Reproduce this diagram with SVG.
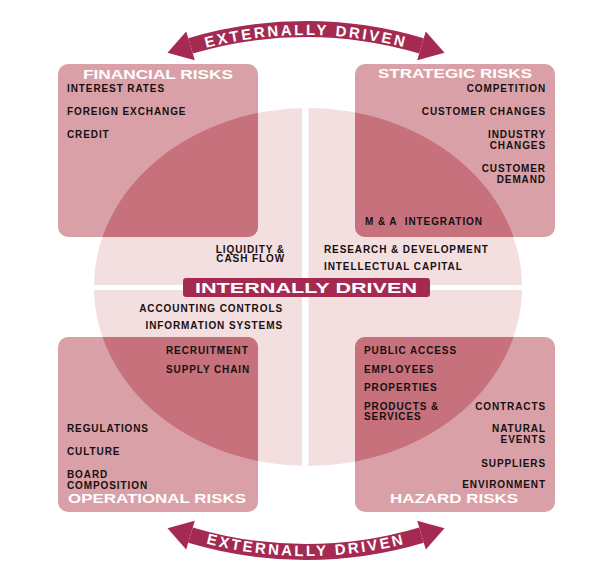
<svg xmlns="http://www.w3.org/2000/svg" width="615" height="562" viewBox="0 0 615 562">
  <style>
    text { font-family: "Liberation Sans", Arial, sans-serif; font-weight: bold; }
    .box { fill: #d9a1a7; }
    .title { fill: #ffffff; font-size: 13.5px; }
    .item { fill: #171012; font-size: 10px; letter-spacing: 0.9px; }
    .end { text-anchor: end; }
    .band { fill: none; stroke: #a42a51; stroke-width: 16; }
    .head { fill: #a42a51; }
    .arc-label { fill: #ffffff; font-size: 15px; letter-spacing: 2.5px; }
  </style>
  <defs>
    <clipPath id="box-area">
      <rect x="58" y="64" width="200" height="173" rx="10"/>
      <rect x="355" y="64" width="200" height="173" rx="10"/>
      <rect x="58" y="337" width="200" height="175" rx="10"/>
      <rect x="355" y="337" width="200" height="175" rx="10"/>
    </clipPath>
    <path id="top-text-arc" d="M 106 89.1 A 397 397 0 0 1 506 89.1"/>
    <path id="bottom-text-arc" d="M 106 503.5 A 407 407 0 0 0 506 503.5"/>
  </defs>

  <rect width="615" height="562" fill="#ffffff"/>

  <!-- central disc split into quadrants -->
  <g id="core">
    <ellipse cx="308" cy="287" rx="214" ry="179" fill="#f3dfe0"/>
    <rect x="302" y="100" width="6.5" height="375" fill="#ffffff"/>
    <rect x="85" y="285" width="450" height="5" fill="#ffffff"/>
  </g>

  <!-- risk boxes -->
  <g id="financial">
    <rect class="box" x="58" y="64" width="200" height="173" rx="10"/>
  </g>
  <g id="strategic">
    <rect class="box" x="355" y="64" width="200" height="173" rx="10"/>
  </g>
  <g id="operational">
    <rect class="box" x="58" y="337" width="200" height="175" rx="10"/>
  </g>
  <g id="hazard">
    <rect class="box" x="355" y="337" width="200" height="175" rx="10"/>
  </g>

  <!-- where the disc overlaps the boxes -->
  <g id="overlap" clip-path="url(#box-area)">
    <ellipse cx="308" cy="287" rx="214" ry="179" fill="#c6717c"/>
  </g>

  <!-- box labels -->
  <g id="financial-labels">
    <text class="title" x="83" y="79" textLength="150" lengthAdjust="spacingAndGlyphs">FINANCIAL RISKS</text>
    <text class="item" x="67" y="92">INTEREST RATES</text>
    <text class="item" x="67" y="115">FOREIGN EXCHANGE</text>
    <text class="item" x="67" y="138">CREDIT</text>
  </g>
  <g id="strategic-labels">
    <text class="title" x="378" y="78" textLength="154" lengthAdjust="spacingAndGlyphs">STRATEGIC RISKS</text>
    <text class="item end" x="546" y="92">COMPETITION</text>
    <text class="item end" x="546" y="115">CUSTOMER CHANGES</text>
    <text class="item end" x="546" y="138">INDUSTRY</text>
    <text class="item end" x="546" y="148.5">CHANGES</text>
    <text class="item end" x="546" y="172">CUSTOMER</text>
    <text class="item end" x="546" y="183">DEMAND</text>
    <text class="item" x="365" y="225">M &amp; A&#160; INTEGRATION</text>
  </g>
  <g id="operational-labels">
    <text class="item" x="166" y="354">RECRUITMENT</text>
    <text class="item" x="166" y="373">SUPPLY CHAIN</text>
    <text class="item" x="67" y="432">REGULATIONS</text>
    <text class="item" x="67" y="455">CULTURE</text>
    <text class="item" x="67" y="478">BOARD</text>
    <text class="item" x="67" y="488.5">COMPOSITION</text>
    <text class="title" x="68" y="503" textLength="178" lengthAdjust="spacingAndGlyphs">OPERATIONAL RISKS</text>
  </g>
  <g id="hazard-labels">
    <text class="item" x="364" y="353.5">PUBLIC ACCESS</text>
    <text class="item" x="364" y="372.5">EMPLOYEES</text>
    <text class="item" x="364" y="391">PROPERTIES</text>
    <text class="item" x="364" y="410">PRODUCTS &amp;</text>
    <text class="item" x="364" y="420">SERVICES</text>
    <text class="item end" x="546" y="410">CONTRACTS</text>
    <text class="item end" x="546" y="432">NATURAL</text>
    <text class="item end" x="546" y="443">EVENTS</text>
    <text class="item end" x="546" y="467">SUPPLIERS</text>
    <text class="item end" x="546" y="487.5">ENVIRONMENT</text>
    <text class="title" x="390" y="503" textLength="128" lengthAdjust="spacingAndGlyphs">HAZARD RISKS</text>
  </g>

  <!-- internally driven centre -->
  <g id="internal">
    <text class="item end" x="285" y="252.5">LIQUIDITY &amp;</text>
    <text class="item end" x="285" y="262">CASH FLOW</text>
    <text class="item" x="324" y="253">RESEARCH &amp; DEVELOPMENT</text>
    <text class="item" x="324" y="270">INTELLECTUAL CAPITAL</text>
    <rect x="183" y="278" width="247" height="19" rx="3" fill="#a42a51"/>
    <text x="195" y="292.5" font-size="15.5" fill="#ffffff" textLength="222" lengthAdjust="spacingAndGlyphs">INTERNALLY DRIVEN</text>
    <text class="item end" x="283" y="312">ACCOUNTING CONTROLS</text>
    <text class="item end" x="283" y="329">INFORMATION SYSTEMS</text>
  </g>

  <!-- externally driven double arrows -->
  <g id="connectors">
    <path class="band" d="M 190.5 45.9 A 403 403 0 0 1 421.5 45.9"/>
    <polygon class="head" points="167.5,52.8 186.2,31.5 194.8,60.3"/>
    <polygon class="head" points="444.5,52.8 425.8,31.5 417.2,60.3"/>
    <text class="arc-label"><textPath href="#top-text-arc" startOffset="50%" text-anchor="middle">EXTERNALLY DRIVEN</textPath></text>

    <path class="band" d="M 190.5 535.1 A 403 403 0 0 0 421.5 535.1"/>
    <polygon class="head" points="167.5,528.2 186.2,549.5 194.8,520.7"/>
    <polygon class="head" points="444.5,528.2 425.8,549.5 417.2,520.7"/>
    <text class="arc-label"><textPath href="#bottom-text-arc" startOffset="50%" text-anchor="middle">EXTERNALLY DRIVEN</textPath></text>
  </g>
</svg>
